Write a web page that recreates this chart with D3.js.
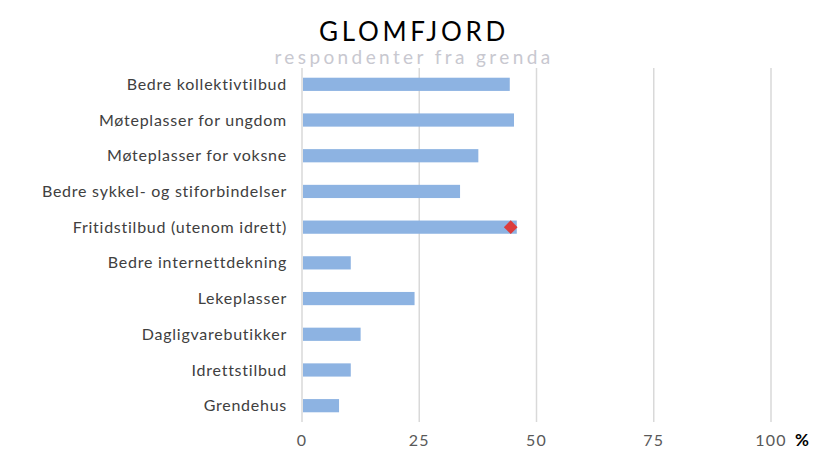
<!DOCTYPE html>
<html>
<head>
<meta charset="utf-8">
<script src="https://cdn.jsdelivr.net/npm/d3@7"></script>
<style>
body { margin: 0; background: #fff; }
text { font-family: "Lato", "Open Sans", sans-serif; }
</style>
</head>
<body>
<svg width="813" height="453"></svg>
<script>
var categories = ["Bedre kollektivtilbud", "Møteplasser for ungdom", "Møteplasser for voksne",
  "Bedre sykkel- og stiforbindelser", "Fritidstilbud (utenom idrett)", "Bedre internettdekning",
  "Lekeplasser", "Dagligvarebutikker", "Idrettstilbud", "Grendehus"];
var values = [44.3, 45.2, 37.6, 33.7, 45.8, 10.4, 24.0, 12.5, 10.4, 7.9];
var markerCategory = "Fritidstilbud (utenom idrett)";
var markerValue = 44.5;
var ticks = [0, 25, 50, 75, 100];

var svg = d3.select("svg");

var x = d3.scaleLinear().domain([0, 100]).range([302, 771]);
var y = d3.scaleBand().domain(categories).range([67, 423]).paddingInner(0.63).paddingOuter(0.3);

// gridlines
svg.append("g")
    .selectAll("line")
    .data(ticks)
    .enter().append("line")
    .attr("x1", function(d) { return x(d); })
    .attr("x2", function(d) { return x(d); })
    .attr("y1", 68)
    .attr("y2", 422)
    .attr("stroke", "#d9d9d9")
    .attr("stroke-width", 1.5);

// bars
svg.append("g")
    .selectAll("rect")
    .data(values)
    .enter().append("rect")
    .attr("x", x(0) + 1)
    .attr("y", function(d, i) { return y(categories[i]); })
    .attr("width", function(d) { return x(d) - x(0) - 1; })
    .attr("height", y.bandwidth())
    .attr("fill", "#8db3e2");

// marker
svg.append("path")
    .attr("d", d3.symbol().type(d3.symbolDiamond2).size(120))
    .attr("transform", "translate(" + x(markerValue) + "," + (y(markerCategory) + y.bandwidth() / 2) + ")")
    .attr("fill", "#dc3c3c");

// category labels
svg.append("g")
    .selectAll("text")
    .data(categories)
    .enter().append("text")
    .attr("x", 287)
    .attr("y", function(d) { return y(d) + y.bandwidth() / 2; })
    .attr("dy", "0.35em")
    .attr("text-anchor", "end")
    .attr("font-size", 16)
    .attr("fill", "#404040")
    .attr("letter-spacing", 0.75)
    .text(function(d) { return d; });

// x axis labels
svg.append("g")
    .selectAll("text")
    .data(ticks)
    .enter().append("text")
    .attr("x", function(d) { return x(d); })
    .attr("y", 446)
    .attr("text-anchor", "middle")
    .attr("font-size", 16)
    .attr("fill", "#595959")
    .attr("letter-spacing", 1.2)
    .text(function(d) { return d; });

svg.append("text")
    .attr("x", 795)
    .attr("y", 446)
    .attr("font-size", 17)
    .attr("font-weight", "bold")
    .attr("fill", "#000")
    .text("%");

// title
svg.append("text")
    .attr("x", 414)
    .attr("y", 41)
    .attr("text-anchor", "middle")
    .attr("font-size", 26)
    .attr("letter-spacing", 3.7)
    .attr("fill", "#000")
    .text("GLOMFJORD");

svg.append("text")
    .attr("x", 414)
    .attr("y", 64)
    .attr("text-anchor", "middle")
    .attr("font-size", 19)
    .attr("letter-spacing", 3.4)
    .attr("fill", "#c8c8d0")
    .text("respondenter fra grenda");
</script>
</body>
</html>
